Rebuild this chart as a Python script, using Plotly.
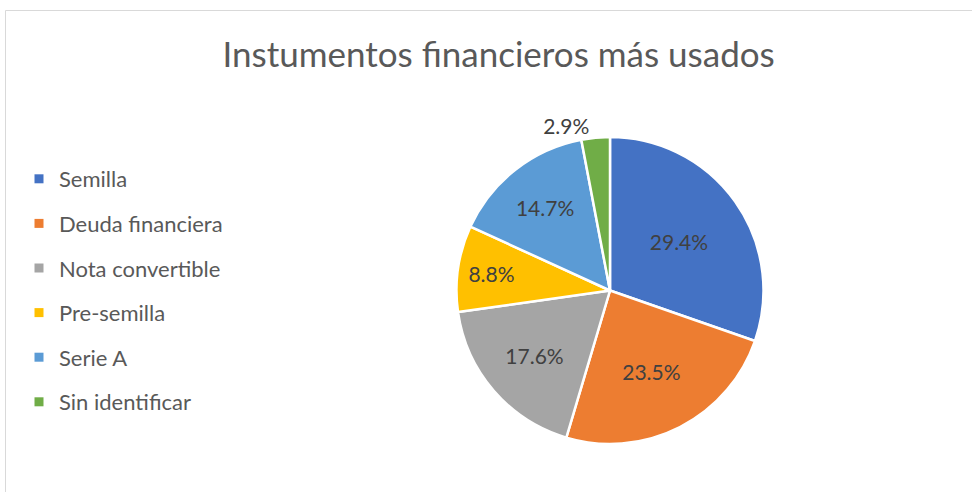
import plotly.graph_objects as go

labels = ["Semilla", "Deuda financiera", "Nota convertible", "Pre-semilla", "Serie A", "Sin identificar"]
values = [29.4, 23.5, 17.6, 8.8, 14.7, 2.9]
colors = ["#4472C4", "#ED7D31", "#A5A5A5", "#FFC000", "#5B9BD5", "#70AD47"]
title_text = "Instumentos financieros más usados"

W, H = 972, 492
FONT = "Lato, 'Open Sans', sans-serif"

fig = go.Figure()

positions = ["inside" if v > 5 else "outside" for v in values]
fig.add_trace(go.Pie(
    labels=labels,
    values=values,
    sort=False,
    direction="clockwise",
    rotation=0,
    marker=dict(colors=colors, line=dict(color="white", width=2.5)),
    texttemplate="%{value:.1f}%",
    textposition=positions,
    insidetextorientation="horizontal",
    textfont=dict(family=FONT, size=21, color="#404040"),
    domain=dict(x=[456 / W, 764 / W], y=[1 - 444 / H, 1 - 137 / H]),
    showlegend=False,
    hoverinfo="label+percent",
))

for lab, col in zip(labels, colors):
    fig.add_trace(go.Scatter(
        x=[None], y=[None], mode="markers", name=lab,
        marker=dict(symbol="square", size=9, color=col),
        legendgroup=lab, showlegend=True, hoverinfo="skip",
    ))

fig.update_layout(
    width=W, height=H,
    margin=dict(l=0, r=0, t=0, b=0),
    paper_bgcolor="white", plot_bgcolor="white",
    title=dict(text=title_text, x=0.513, xanchor="center", y=1 - 55 / H, yanchor="middle",
               font=dict(family=FONT, size=35, color="#595959")),
    xaxis=dict(visible=False), yaxis=dict(visible=False),
    legend=dict(x=19 / W, xanchor="left", y=1 - 158 / H, yanchor="top",
                font=dict(family=FONT, size=22, color="#595959"),
                tracegroupgap=13, itemsizing="trace", bgcolor="rgba(0,0,0,0)"),
    shapes=[dict(type="rect", xref="paper", yref="paper",
                 x0=5.5 / W, x1=1.02, y0=-0.02, y1=1 - 10.5 / H,
                 line=dict(color="#D9D9D9", width=1))],
)

fig.write_html("out.html", config={"displayModeBar": False},
               post_script="document.body.style.margin='0';document.body.style.overflow='hidden';")
